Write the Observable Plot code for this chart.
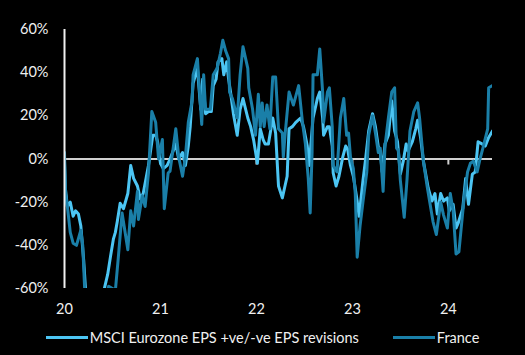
<!DOCTYPE html>
<html>
<head>
<meta charset="utf-8">
<script src="https://cdn.jsdelivr.net/npm/d3@7"></script>
<script src="https://cdn.jsdelivr.net/npm/@observablehq/plot@0.6"></script>
<style>
  html, body { margin: 0; padding: 0; background: #000; }
  #chart { width: 525px; height: 355px; background: #000; font-family: Lato, "Open Sans", sans-serif; }
  .legend { display: flex; justify-content: center; align-items: center; margin-top: 5px; height: 20px; color: #f0f0f0; font-size: 14.5px; }
  .legend .item { display: flex; align-items: center; }
  .legend .item + .item { margin-left: 34px; }
  .legend .sw { width: 42px; height: 3px; margin-right: 2px; }
</style>
</head>
<body>
<div id="chart"></div>
<script>
// Series names and colours
const seriesNames = ["MSCI Eurozone EPS +ve/-ve EPS revisions", "France"];
const seriesColors = ["#4cc5f3", "#1a7fa8"];

// X tick values (years) and y tick values (%)
const xTicks = [2020, 2021, 2022, 2023, 2024];
const yTicks = [-60, -40, -20, 0, 20, 40, 60];

// MSCI Eurozone: decimal year / value (%)
const msciDates = [2020.00,2020.01,2020.03,2020.06,2020.09,2020.115,2020.145,2020.17,2020.20,2020.22,2020.29,2020.375,2020.41,2020.45,2020.48,2020.51,2020.53,2020.55,2020.58,2020.615,2020.66,2020.69,2020.72,2020.76,2020.79,2020.82,2020.875,2020.92,2020.95,2020.97,2021.00,2021.03,2021.07,2021.10,2021.16,2021.19,2021.23,2021.26,2021.29,2021.31,2021.34,2021.385,2021.42,2021.44,2021.47,2021.50,2021.53,2021.55,2021.58,2021.60,2021.64,2021.66,2021.69,2021.71,2021.73,2021.76,2021.80,2021.83,2021.86,2021.91,2021.94,2021.97,2022.01,2022.04,2022.07,2022.09,2022.125,2022.17,2022.20,2022.23,2022.27,2022.29,2022.32,2022.34,2022.375,2022.41,2022.46,2022.49,2022.53,2022.55,2022.59,2022.635,2022.66,2022.69,2022.70,2022.74,2022.76,2022.79,2022.80,2022.83,2022.86,2022.90,2022.93,2022.95,2022.98,2023.01,2023.05,2023.07,2023.11,2023.135,2023.17,2023.21,2023.24,2023.27,2023.29,2023.31,2023.34,2023.375,2023.41,2023.44,2023.47,2023.50,2023.53,2023.56,2023.58,2023.625,2023.66,2023.68,2023.71,2023.74,2023.79,2023.83,2023.86,2023.885,2023.92,2023.95,2023.99,2024.01,2024.05,2024.08,2024.10,2024.15,2024.18,2024.21,2024.25,2024.28,2024.31,2024.35,2024.385,2024.42,2024.46];
const msciValues = [-1,-14,-22,-20,-26.5,-24,-25.5,-31,-47,-61,-75,-70,-61,-53.5,-45,-37,-34,-29,-20.5,-23,-16,-3,-9,-12.5,-18.5,-16,-3,11,11,8,-2,-4.5,-3,0,7,0,3,-3,6,15,35,42,23,37,21,22,22,34,37,45,46.5,39,45,37,31,21,11,23,28,19,15,9,-2,14,9,7,7,19,12,-12.5,-18,-14,-8,14,15,17,19,15,6,-3,19,28,31,19,11,15,15,6,-6.5,-12.5,-8,1,6,4.6,-3,-8,-19.5,-26.5,-10,-1,13,21,15,5.6,3.7,-6,7,11,27,13,8,-7,-1,7,3.7,8,14,18,10,-1,-13.5,-19.5,-16,-25.5,-16,-19.5,-18,-24,-21,-32,-30,-23,-9,-21,-7,-6,8,7,6,10,13];

// France: decimal year / value (%)
const franceDates = [2020.00,2020.01,2020.03,2020.06,2020.09,2020.125,2020.17,2020.19,2020.21,2020.25,2020.32,2020.41,2020.46,2020.50,2020.53,2020.56,2020.60,2020.66,2020.69,2020.72,2020.76,2020.77,2020.81,2020.84,2020.875,2020.91,2020.95,2020.98,2021.02,2021.04,2021.08,2021.10,2021.16,2021.19,2021.23,2021.26,2021.29,2021.33,2021.34,2021.385,2021.43,2021.45,2021.47,2021.52,2021.55,2021.59,2021.625,2021.65,2021.68,2021.71,2021.72,2021.75,2021.80,2021.83,2021.86,2021.91,2021.92,2021.96,2021.99,2022.02,2022.04,2022.06,2022.08,2022.11,2022.14,2022.17,2022.20,2022.23,2022.27,2022.28,2022.30,2022.34,2022.385,2022.44,2022.48,2022.51,2022.54,2022.56,2022.58,2022.59,2022.635,2022.66,2022.69,2022.70,2022.74,2022.76,2022.79,2022.80,2022.84,2022.875,2022.91,2022.94,2022.96,2022.98,2023.01,2023.03,2023.05,2023.08,2023.11,2023.15,2023.17,2023.21,2023.24,2023.27,2023.29,2023.32,2023.34,2023.375,2023.41,2023.44,2023.46,2023.48,2023.50,2023.54,2023.57,2023.60,2023.64,2023.68,2023.70,2023.74,2023.78,2023.81,2023.84,2023.875,2023.92,2023.95,2023.99,2024.02,2024.05,2024.08,2024.11,2024.16,2024.20,2024.23,2024.26,2024.30,2024.33,2024.36,2024.41,2024.42,2024.46];
const franceValues = [3,-16,-22,-34,-39,-40,-33,-40,-60,-72,-78,-68,-59,-60,-61,-46,-25,-42,-24,-31,-15,-28,-17,-22,-6.5,22,17,0,9,-23,-6.5,-5.6,14,1,-8,1,17,27,39,46.5,16,39,23,23,39,42,49,55,50,46.5,31,28,19,39,52,42,33,23,11,30,15,26,15,25,14,38,38,14,12,1,12,31,25,34,17,7,-9,-25,3,39,39,51,31,17,31,33,15,-3,-6,19,28,11,12,1,-4.5,-16,-45.5,-31,-20,-6,11,20,12,3,5,-15,6,19,31,33,5,4,-10,-27,-9,13,22,26,19,-1,-13,-21,-29,-35,-20,-26,-32,-16,-24,-44,-43,-20,-6,-2,-1,-6,0,5,14,33,34];

const rows = [
  ...msciDates.map((d, i) => ({date: d, value: msciValues[i], series: seriesNames[0]})),
  ...franceDates.map((d, i) => ({date: d, value: franceValues[i], series: seriesNames[1]}))
];
const xDomain = [xTicks[0], d3.max([...msciDates, ...franceDates])];
const xFmt = d => String(d).slice(2);
const yFmt = d => d + "%";

const plot = Plot.plot({
  width: 525,
  height: 322,
  marginTop: 29,
  marginBottom: 34,
  marginLeft: 64,
  marginRight: 33,
  style: {background: "#000", color: "#f0f0f0", fontFamily: "Lato, 'Open Sans', sans-serif", fontSize: "14.5px"},
  x: {domain: xDomain},
  y: {domain: [yTicks[0], yTicks[yTicks.length - 1]]},
  color: {domain: seriesNames, range: seriesColors},
  marks: [
    Plot.axisY(yTicks, {tickSize: 0, tickPadding: 16, label: null, tickFormat: yFmt, fill: "#f0f0f0"}),
    Plot.axisX(xTicks, {tickSize: 0, tickPadding: 15, label: null, tickFormat: xFmt, fill: "#f0f0f0"}),
    Plot.ruleY([0], {stroke: "#d0d0d0", strokeWidth: 2}),
    Plot.ruleX(xTicks.slice(1), {y1: 0, y2: 0, insetBottom: -6, stroke: "#d0d0d0", strokeWidth: 2}),
    Plot.line(rows, {x: "date", y: "value", z: "series", stroke: "series", strokeWidth: 3, clip: true, curve: "linear"}),
    Plot.ruleX([xDomain[0]], {stroke: "#f0f0f0", strokeWidth: 2})
  ]
});

const chart = document.getElementById("chart");
chart.appendChild(plot);
const legend = document.createElement("div");
legend.className = "legend";
seriesNames.forEach((name, i) => {
  const item = document.createElement("div");
  item.className = "item";
  const sw = document.createElement("span");
  sw.className = "sw";
  sw.style.background = seriesColors[i];
  const label = document.createElement("span");
  label.textContent = name;
  item.appendChild(sw);
  item.appendChild(label);
  legend.appendChild(item);
});
chart.appendChild(legend);
</script>
</body>
</html>
